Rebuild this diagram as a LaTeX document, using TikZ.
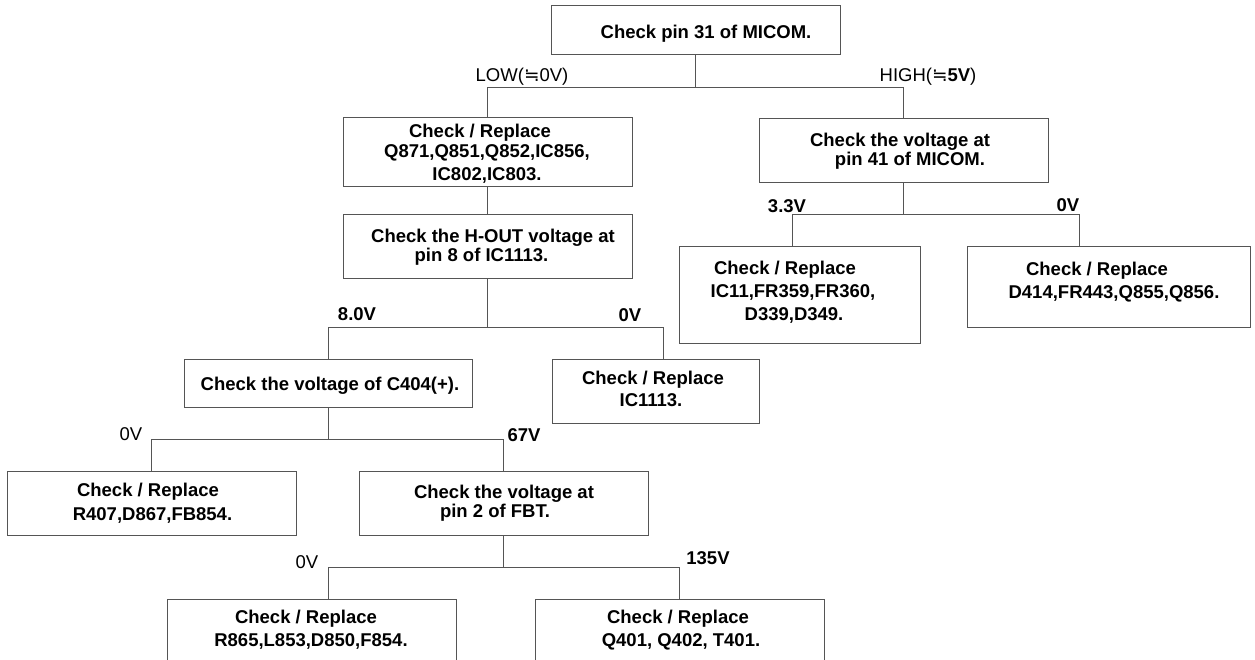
\documentclass[tikz,border=0pt]{standalone}
\usepackage{fontspec}
\setmainfont{Liberation Sans}
\newfontfamily\symfont{DejaVu Sans}
\definecolor{linegray}{HTML}{555555}
\begin{document}
\begin{tikzpicture}[x=1pt,y=-1pt,
  box/.style={draw=linegray, line width=1pt, inner sep=0pt, rectangle},
  txt/.style={inner sep=0pt, font=\bfseries\fontsize{18.5}{20}\selectfont, text height=13.3pt, text depth=0pt},
  lbl/.style={inner sep=0pt, font=\fontsize{18.5}{20}\selectfont, text height=13.3pt, text depth=0pt},
  blbl/.style={lbl, font=\bfseries\fontsize{18.5}{20}\selectfont},
  link/.style={draw=linegray, line width=1pt}]
\useasboundingbox (0,0) rectangle (1255,660);
\clip (0,0) rectangle (1255,660);
\fill[white] (0,0) rectangle (1255,660);

% boxes
\node[box, minimum width=289pt, minimum height=49pt] (top)    at (695.5,30.5) {};
\node[box, minimum width=289pt, minimum height=69pt] (q871)   at (487.5,152.5) {};
\node[box, minimum width=289pt, minimum height=64pt] (hout)   at (487.5,247) {};
\node[box, minimum width=289pt, minimum height=64pt] (pin41)  at (903.5,151) {};
\node[box, minimum width=241pt, minimum height=96pt] (ic11)   at (799.5,295) {};
\node[box, minimum width=283pt, minimum height=80pt] (d414)   at (1108.5,287) {};
\node[box, minimum width=207pt, minimum height=64pt] (ic1113) at (655.5,391) {};
\node[box, minimum width=288pt, minimum height=48pt] (c404)   at (328,383) {};
\node[box, minimum width=289pt, minimum height=64pt] (r407)   at (151.5,503) {};
\node[box, minimum width=289pt, minimum height=64pt] (fbt)    at (503.5,503) {};
\node[box, minimum width=289pt, minimum height=81pt] (rbl)    at (311.5,639.5) {};
\node[box, minimum width=289pt, minimum height=81pt] (rbr)    at (679.5,639.5) {};

% connectors
\path (top.south) ++(0,32) coordinate (j1);
\draw[link] (top.south) -- (j1);
\draw[link] (q871.north) |- (j1) -| (pin41.north);
\draw[link] (q871.south) -- (hout.north);
\path (hout.south) ++(0,48) coordinate (j2);
\draw[link] (hout.south) -- (j2);
\draw[link] (c404.north) |- (j2) -| ([xshift=7.5pt]ic1113.north);
\path (pin41.south) ++(0,31) coordinate (j3);
\draw[link] (pin41.south) -- (j3);
\draw[link] ([xshift=-7.5pt]ic11.north) |- (j3) -| ([xshift=-29.5pt]d414.north);
\path (c404.south) ++(0,32) coordinate (j4);
\draw[link] (c404.south) -- (j4);
\draw[link] (r407.north) |- (j4) -| (fbt.north);
\path (fbt.south) ++(0,32) coordinate (j5);
\draw[link] (fbt.south) -- (j5);
\draw[link] ([xshift=16.5pt]rbl.north) |- (j5) -| (rbr.north);

% box texts
\node[txt] (ttop) at (706,32) {Check pin 31 of MICOM.};
\node[txt] (tq1) at (480,131) {Check / Replace};
\node[txt] (tq2) at (487,151) {Q871,Q851,Q852,IC856,};
\node[txt] (tq3) at (487,174) {IC802,IC803.};
\node[txt] (th1) at (493,236) {Check the H-OUT voltage at};
\node[txt] (th2) at (481.5,255) {pin 8 of IC1113.};
\node[txt] (tp1) at (900,140) {Check the voltage at};
\node[txt] (tp2) at (910,159) {pin 41 of MICOM.};
\node[txt] (ti1) at (785,268) {Check / Replace};
\node[txt] (ti2) at (793,291) {IC11,FR359,FR360,};
\node[txt] (ti3) at (794,314) {D339,D349.};
\node[txt] (td1) at (1097,269) {Check / Replace};
\node[txt] (td2) at (1114,292) {D414,FR443,Q855,Q856.};
\node[txt] (tc1) at (653,378) {Check / Replace};
\node[txt] (tc2) at (651,400) {IC1113.};
\node[txt] (tv1) at (330,384) {Check the voltage of C404(+).};
\node[txt] (tr1) at (148,490) {Check / Replace};
\node[txt] (tr2) at (152.5,514) {R407,D867,FB854.};
\node[txt] (tf1) at (504,492) {Check the voltage at};
\node[txt] (tf2) at (495,511) {pin 2 of FBT.};
\node[txt] (tl1) at (306,617) {Check / Replace};
\node[txt] (tl2) at (311,640) {R865,L853,D850,F854.};
\node[txt] (tb1) at (678,617) {Check / Replace};
\node[txt] (tb2) at (681,640) {Q401, Q402, T401.};

% branch labels
\node[lbl] (llow) at (522,75) {LOW({\symfont ≒}0V)};
\node[lbl] (lhigh) at (928,75) {HIGH({\symfont ≒}\textbf{5V})};
\node[blbl] (l33) at (787,206) {3.3V};
\node[blbl] (l0a) at (1068,205) {0V};
\node[blbl] (l80) at (357,314) {8.0V};
\node[blbl] (l0b) at (630,315) {0V};
\node[lbl] (l0c) at (131,434) {0V};
\node[blbl] (l67) at (524,435) {67V};
\node[lbl] (l0d) at (307,562) {0V};
\node[blbl] (l135) at (708,558) {135V};
\end{tikzpicture}
\end{document}
